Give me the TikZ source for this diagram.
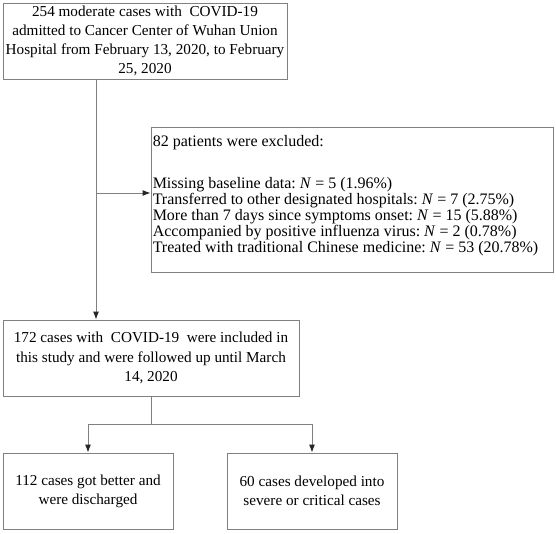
\documentclass[tikz,border=0pt]{standalone}
\usepackage{fontspec}
\setmainfont{Liberation Serif}
\usepackage{tikz}
\usetikzlibrary{positioning, calc, arrows, arrows.meta}
\definecolor{linegray}{HTML}{808080}
\frenchspacing

\begin{document}
\begin{tikzpicture}[x=1pt, y=-1pt,
  box/.style={draw=linegray, line width=0.9pt, rectangle, inner sep=2pt,
    align=center, font=\fontsize{15.2}{19.2}\selectfont},
  link/.style={draw=linegray, line width=0.9pt,
    -{Latex[length=8pt, width=6pt, color=black!85]}}]
\useasboundingbox (0,0) rectangle (556,534);
% nodes
\node[box, minimum width=284pt, minimum height=76pt] (admit) at (145, 41)
  {254 moderate cases with~ COVID-19\\admitted to Cancer Center of Wuhan Union\\Hospital from February 13, 2020, to February\\25, 2020};
\node[box, minimum width=402pt, minimum height=145pt] (excl) at (352, 199.5) {};
\node[anchor=north west, inner xsep=2pt, inner ysep=9pt, align=left,
  font=\fontsize{16}{16}\selectfont] (excltext) at (excl.north west)
  {82 patients were excluded:\\[26pt]
   Missing baseline data: \textit{N} = 5 (1.96\%)\\
   Transferred to other designated hospitals: \textit{N} = 7 (2.75\%)\\
   More than 7 days since symptoms onset: \textit{N} = 15 (5.88\%)\\
   Accompanied by positive influenza virus: \textit{N} = 2 (0.78\%)\\
   Treated with traditional Chinese medicine: \textit{N} = 53 (20.78\%)};
\node[box, minimum width=296pt, minimum height=76pt] (incl) at (151, 358)
  {172 cases with~ COVID-19~ were included in\\this study and were followed up until March\\14, 2020};
\node[box, minimum width=170pt, minimum height=76pt] (better) at (88, 491)
  {112 cases got better and\\were discharged};
\node[box, minimum width=170pt, minimum height=76pt] (severe) at (312, 491)
  {60 cases developed into\\severe or critical cases};
\coordinate (split) at (96, 193);
% arrows
\draw[link] (admit.south -| split) -- (incl.north -| split);
\draw[link] (split) -- (split -| excl.west);
\draw[draw=linegray, line width=0.9pt] (incl.south) -- ++(0, 28) coordinate (fork);
\draw[link] (fork) -| (better.north);
\draw[link] (fork) -| (severe.north);
\end{tikzpicture}
\end{document}
